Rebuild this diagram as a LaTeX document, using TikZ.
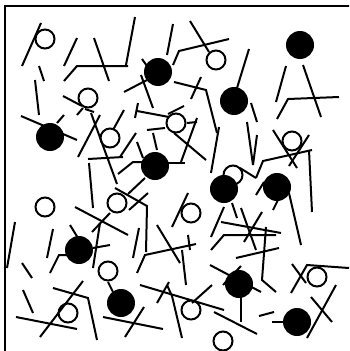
\documentclass[tikz,border=0pt]{standalone}
\usepackage{tikz}
\usetikzlibrary{arrows.meta,positioning,calc}

\begin{document}
\begin{tikzpicture}[x=1pt,y=-1pt,
  stick/.style={line width=2pt},
  ring/.style={line width=2pt},
  blob/.style={fill=black}]
  \useasboundingbox (0,0) rectangle (349,351);
  \clip (0,0) rectangle (349,351);
  % frame (cut off at right and bottom)
  \draw[line width=2pt] (4.5,360) |- (360,6);
  % straight sticks
  \foreach \xa/\ya/\xb/\yb in {
     22/66/41/23, 39/66/44/81, 35/80/39/115, 64/66/77/38, 94/38/109/81,
     126/65/135/17, 124/92/147/80, 141/75/153/108, 142/59/147/66,
     167/55/173/24, 190/21/209/52, 201/77/191/99, 249/49/237/88,
     251/103/257/122, 286/66/276/102, 303/65/321/117,
     21/116/77/140, 57/123/64/115, 63/96/82/106, 77/115/83/108,
     100/115/78/157, 91/113/117/184, 124/110/113/130, 135/118/138/103,
     137/111/169/117, 168/114/184/106, 187/123/197/122, 197/118/181/162,
     174/133/206/160, 147/130/165/128, 219/127/211/173, 247/122/253/165,
     257/135/253/165, 273/130/297/168, 309/135/289/166, 309/150/312/212,
     120/157/136/133, 88/159/123/157, 137/142/143/158, 153/133/157/150,
     168/163/185/163, 89/163/93/208, 145/178/128/194, 148/193/129/210,
     75/207/128/235, 110/213/92/232, 100/223/93/268, 53/229/47/258,
     70/225/78/238, 93/248/110/245, 22/263/32/278, 15/222/7/268,
     139/228/133/258, 157/225/180/263, 188/193/172/227, 188/235/190/250,
     182/250/186/285, 108/282/113/292, 23/290/33/313, 16/317/77/329,
     83/281/40/337, 103/317/163/329, 144/307/125/337, 140/285/224/310,
     169/282/157/303, 212/285/192/303, 210/265/261/292, 241/266/223/285,
     241/297/241/322, 214/312/257/334, 259/316/274/312, 272/322/284/322,
     336/285/307/338, 311/297/332/322, 292/264/306/283, 224/207/211/237,
     232/203/237/218, 221/222/281/233, 241/208/256/250, 262/212/244/242,
     236/258/279/248, 289/193/301/245, 240/168/256/178, 256/195/264/182,
     278/200/273/210, 85/109/94/112}
    \draw[stick] (\xa,\ya) -- (\xb,\yb);
  % bent sticks
  \draw[stick] (64,81) -- (77,66) -- (128,66);
  \draw[stick] (173,65) -- (179,51) -- (229,39);
  \draw[stick] (174,82) -- (206,90) -- (217,133);
  \draw[stick] (277,119) -- (288,99) -- (339,97);
  \draw[stick] (256,178) -- (263,161) -- (312,150);
  \draw[stick] (118,174) -- (133,162) -- (144,162);
  \draw[stick] (115,188) -- (147,206) -- (146,252);
  \draw[stick] (50,273) -- (59,255) -- (67,255);
  \draw[stick] (137,273) -- (145,255) -- (196,244);
  \draw[stick] (53,288) -- (88,298) -- (97,340);
  \draw[stick] (167,285) -- (172,296) -- (182,338);
  \draw[stick] (291,293) -- (307,265) -- (349,268);
  \draw[stick] (211,250) -- (224,235) -- (276,235);
  \draw[stick] (266,227) -- (262,280) -- (276,292);
  % open circles
  \foreach \x/\y in {45/39, 216/60, 88/98, 176/123, 110/138, 292/141,
     233/175, 45/207, 117/203, 191/213, 108/271, 317/277, 68/313,
     191/310, 223/341}
    \draw[ring] (\x,\y) circle[radius=9.5pt];
  % filled circles
  \foreach \x/\y in {300/45, 158/72, 234/101, 50/137, 155/166, 224/189,
     277/187, 79/250, 121/303, 239/284, 297/322}
    \fill[blob] (\x,\y) circle[radius=14pt];
\end{tikzpicture}
\end{document}
